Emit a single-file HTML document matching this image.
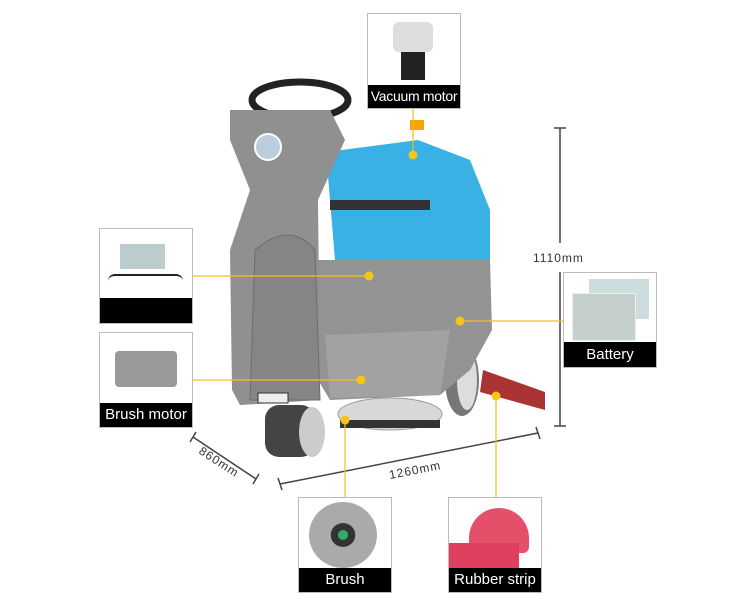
<!DOCTYPE html><html><head><meta charset="utf-8"><style>
body{margin:0;background:#fff;width:750px;height:615px;overflow:hidden;position:relative;font-family:"Liberation Sans",sans-serif}
.box{position:absolute;border:1px solid #bbb;background:#fff;box-sizing:border-box}
.bar{position:absolute;left:0;right:0;bottom:0;background:#000;color:#fff;font-size:15px;text-align:center;white-space:nowrap;overflow:hidden}
svg{position:absolute;left:0;top:0}
</style></head><body>
<svg width="750" height="615">
<g stroke="#444" stroke-width="1.5" fill="none">
<line x1="560" y1="128" x2="560" y2="243"/><line x1="560" y1="272" x2="560" y2="426"/>
<line x1="554" y1="128" x2="566" y2="128"/><line x1="554" y1="426" x2="566" y2="426"/>
<line x1="280" y1="484" x2="538" y2="433"/><line x1="278" y1="478" x2="282" y2="490"/><line x1="536" y1="427" x2="540" y2="439"/>
<line x1="193" y1="437" x2="256" y2="479"/><line x1="190" y1="442" x2="196" y2="432"/><line x1="253" y1="484" x2="259" y2="474"/>
</g>
<text x="533" y="262" font-size="12" fill="#333" letter-spacing="1">1110mm</text>
<text x="0" y="0" font-size="12" fill="#333" letter-spacing="1" transform="translate(390,479) rotate(-11)">1260mm</text>
<text x="0" y="0" font-size="12" fill="#333" letter-spacing="1" transform="translate(198,453) rotate(33)">860mm</text>
<ellipse cx="390" cy="414" rx="52" ry="16" fill="#d8d8d8" stroke="#999"/>
<rect x="340" y="420" width="100" height="8" fill="#333"/>
<ellipse cx="462" cy="380" rx="17" ry="36" fill="#777"/><ellipse cx="467" cy="380" rx="10" ry="30" fill="#ddd"/>
<path d="M483 370 L545 392 L545 410 L480 392Z" fill="#a33"/>
<path d="M326 152 L418 140 L470 160 L490 210 L490 260 L335 260Z" fill="#39b1e4"/>
<rect x="330" y="200" width="100" height="10" fill="#333"/>
<path d="M318 260 L490 260 L492 330 L470 370 L440 395 L330 400 L318 380Z" fill="#939393"/>
<path d="M325 335 L450 330 L440 395 L330 398Z" fill="#a2a2a2"/>
<ellipse cx="300" cy="100" rx="48" ry="18" fill="none" stroke="#222" stroke-width="7"/>
<path d="M230 110 L330 110 L345 140 L318 200 L320 400 L240 405 L232 390 L230 250 L250 190 L230 140Z" fill="#909090"/>
<path d="M255 250 Q290 220 315 250 L320 400 L250 400Z" fill="#858585" stroke="#6d6d6d"/>
<circle cx="268" cy="147" r="13" fill="#bcd" stroke="#fff" stroke-width="2"/>
<rect x="258" y="393" width="30" height="10" fill="#eee" stroke="#333"/>
<rect x="265" y="405" width="50" height="52" rx="14" fill="#444"/><ellipse cx="312" cy="432" rx="13" ry="25" fill="#ccc"/>
<rect x="410" y="120" width="14" height="10" fill="#f5a300"/>
<g stroke="#f0c020" stroke-width="1.2">
<line x1="413" y1="109" x2="413" y2="155"/><line x1="193" y1="276" x2="369" y2="276"/>
<line x1="460" y1="321" x2="563" y2="321"/><line x1="193" y1="380" x2="361" y2="380"/>
<line x1="345" y1="420" x2="345" y2="497"/><line x1="496" y1="396" x2="496" y2="497"/>
</g>
<g fill="#f5c518"><circle cx="413" cy="155" r="4.5"/><circle cx="369" cy="276" r="4.5"/><circle cx="460" cy="321" r="4.5"/><circle cx="361" cy="380" r="4.5"/><circle cx="345" cy="420" r="4.5"/><circle cx="496" cy="396" r="4.5"/></g>
</svg>
<div class="box" style="left:367px;top:13px;width:94px;height:96px"><div style="position:absolute;left:25px;top:8px;width:40px;height:30px;background:#ddd;border-radius:6px"></div><div style="position:absolute;left:33px;top:38px;width:24px;height:28px;background:#222"></div><div class="bar" style="height:23px;line-height:23px;font-size:14px;letter-spacing:-0.3px">Vacuum motor</div></div>
<div class="box" style="left:99px;top:228px;width:94px;height:96px"><div style="position:absolute;left:20px;top:15px;width:45px;height:25px;background:#bcc"></div><div style="position:absolute;left:8px;top:45px;width:75px;height:12px;border-top:2px solid #222;border-radius:30px"></div><div class="bar" style="height:25px"></div></div>
<div class="box" style="left:99px;top:332px;width:94px;height:96px"><div style="position:absolute;left:15px;top:18px;width:62px;height:36px;background:#999;border-radius:4px"></div><div class="bar" style="height:24px;line-height:24px">Brush motor</div></div>
<div class="box" style="left:563px;top:272px;width:94px;height:96px"><div style="position:absolute;left:25px;top:6px;width:60px;height:40px;background:#cdd"></div><div style="position:absolute;left:8px;top:20px;width:62px;height:46px;background:#c5d0cc;border:1px solid #eee"></div><div class="bar" style="height:25px;line-height:25px">Battery</div></div>
<div class="box" style="left:298px;top:497px;width:94px;height:96px"><div style="position:absolute;left:10px;top:4px;width:68px;height:66px;border-radius:50%;background:radial-gradient(#3a6 0 10%,#333 11% 25%,#aaa 26%)"></div><div class="bar" style="height:24px;line-height:24px">Brush</div></div>
<div class="box" style="left:448px;top:497px;width:94px;height:96px"><div style="position:absolute;left:20px;top:10px;width:60px;height:45px;background:#e4506a;border-radius:30px 30px 6px 6px"></div><div style="position:absolute;left:0;top:45px;width:70px;height:25px;background:#e04060"></div><div class="bar" style="height:24px;line-height:24px">Rubber strip</div></div>
</body></html>
